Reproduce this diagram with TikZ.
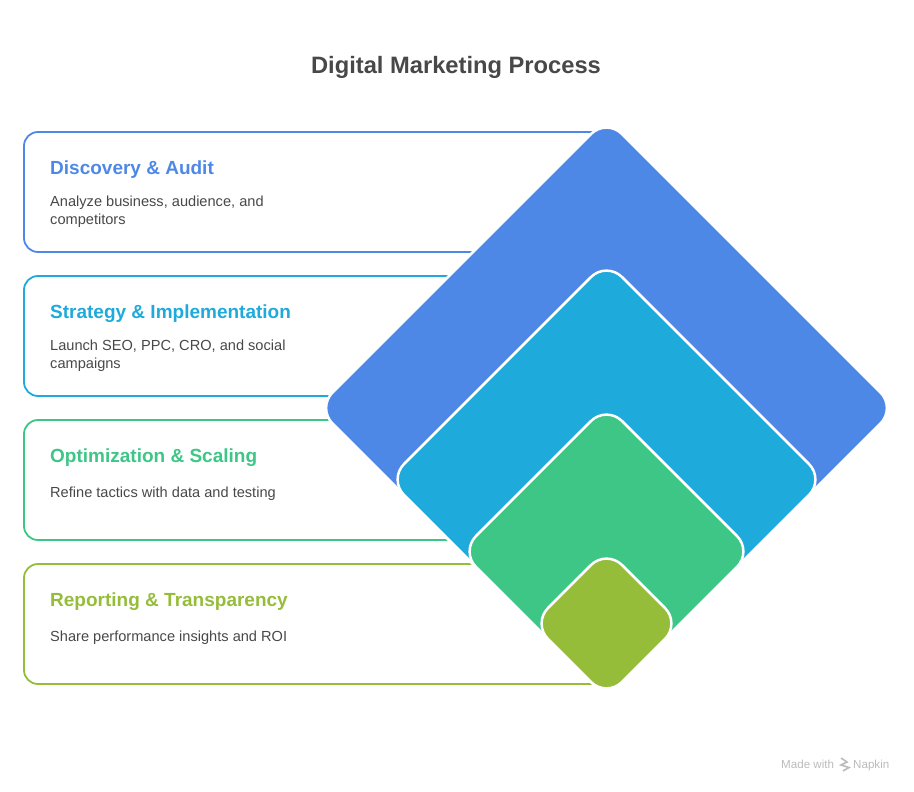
\documentclass[tikz,border=0pt]{standalone}
\usepackage{fontspec}
\setmainfont{Liberation Sans}
\usetikzlibrary{shapes.geometric}
\definecolor{auditblue}{HTML}{4E88E7}
\definecolor{strategycyan}{HTML}{1EAADB}
\definecolor{scalinggreen}{HTML}{3EC686}
\definecolor{reportolive}{HTML}{95BD3A}
\definecolor{bodygray}{HTML}{484848}
\definecolor{markgray}{HTML}{BBBBBB}
\begin{document}
\begin{tikzpicture}[x=1pt, y=-1pt]
   \tikzstyle{card}=[draw, line width=1.8pt, rectangle, rounded corners=14pt, anchor=north west, minimum width=582pt, minimum height=120pt, outer sep=0pt]
   \tikzstyle{head}=[anchor=west, inner sep=0pt, font=\fontsize{19}{23}\selectfont\bfseries]
   \tikzstyle{body}=[anchor=west, inner sep=0pt, align=left, text=bodygray, font=\fontsize{14.6}{18}\selectfont]
   \tikzstyle{layer}=[diamond, aspect=1, draw=white, line width=2.5pt, rounded corners=22pt, inner sep=0pt, outer sep=0pt]
   \tikzstyle{credit}=[anchor=base west, inner sep=0pt, text=markgray, font=\fontsize{11.6}{13}\selectfont]

\useasboundingbox (0,0) rectangle (914,792);

\node[anchor=center, inner sep=0pt, text=bodygray, font=\fontsize{23.7}{28}\selectfont\bfseries] (title) at (456,67) {Digital Marketing Process};

\node[card, draw=auditblue] (auditcard) at (24,132) {};
\node[card, draw=strategycyan] (strategycard) at (24,276) {};
\node[card, draw=scalinggreen] (scalingcard) at (24,420) {};
\node[card, draw=reportolive] (reportcard) at (24,564) {};

\node[head, text=auditblue] (audithead) at (50,169.5) {Discovery \& Audit};
\node[body] (auditbody) at (50,212) {Analyze business, audience, and\\competitors};
\node[head, text=strategycyan] (strategyhead) at (50,313.5) {Strategy \& Implementation};
\node[body] (strategybody) at (50,356) {Launch SEO, PPC, CRO, and social\\campaigns};
\node[head, text=scalinggreen] (scalinghead) at (50,457.5) {Optimization \& Scaling};
\node[body] (scalingbody) at (50,494) {Refine tactics with data and testing};
\node[head, text=reportolive] (reporthead) at (50,601.5) {Reporting \& Transparency};
\node[body] (reportbody) at (50,638) {Share performance insights and ROI};

\node[layer, fill=auditblue, minimum width=579pt, minimum height=579pt] (auditlayer) at (606.5,408) {};
\node[layer, fill=strategycyan, minimum width=436pt, minimum height=436pt] (strategylayer) at (606.5,479.5) {};
\node[layer, fill=scalinggreen, minimum width=292pt, minimum height=292pt] (scalinglayer) at (606.5,551.5) {};
\node[layer, fill=reportolive, minimum width=148pt, minimum height=148pt] (reportlayer) at (606.5,623.5) {};

\node[credit] (madewith) at (781,768) {Made with};
\node[credit] (napkin) at (853,768) {Napkin};
% small logo
\draw[markgray, line width=1.6pt] (841,758) -- (847,762) -- (841,765) -- (849,767.5) -- (843,771);
\end{tikzpicture}
\end{document}
